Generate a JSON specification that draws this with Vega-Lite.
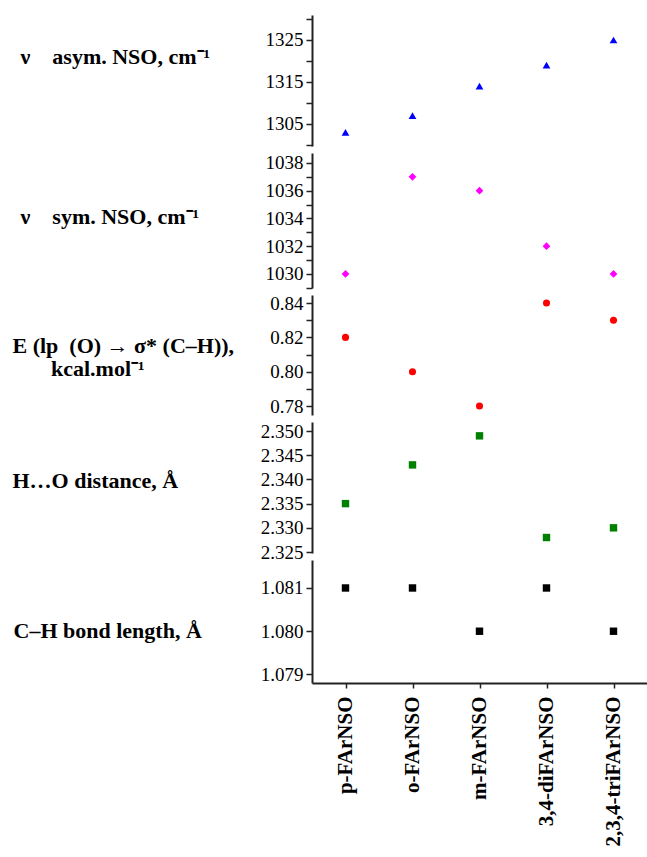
{
  "$schema": "https://vega.github.io/schema/vega-lite/v6.json",
  "padding": {"left": 12, "top": 9, "right": 0, "bottom": 0},
  "background": "white",
  "spacing": 7,
  "bounds": "flush",
  "config": {
    "view": {"stroke": null},
    "font": "Liberation Serif",
    "axis": {
      "domainColor": "#222222", "domainWidth": 2, "tickColor": "#222222", "tickWidth": 1.5, "tickSize": 6,
      "labelFont": "Liberation Serif", "labelFontSize": 19, "labelColor": "black", "labelPadding": 3,
      "grid": false, "labelOverlap": false, "labelFlush": false,
      "titleFont": "Liberation Serif", "titleFontSize": 22, "titleFontWeight": "bold", "titleColor": "black"
    }
  },
  "datasets": {
    "d": [
      {"compound": "p-FArNSO", "asym": 1303, "sym": 1030, "E": 0.82, "HO": 2.335, "CH": 1.081},
      {"compound": "o-FArNSO", "asym": 1307, "sym": 1037, "E": 0.80, "HO": 2.343, "CH": 1.081},
      {"compound": "m-FArNSO", "asym": 1314, "sym": 1036, "E": 0.78, "HO": 2.349, "CH": 1.080},
      {"compound": "3,4-diFArNSO", "asym": 1319, "sym": 1032, "E": 0.84, "HO": 2.328, "CH": 1.081},
      {"compound": "2,3,4-triFArNSO", "asym": 1325, "sym": 1030, "E": 0.83, "HO": 2.330, "CH": 1.080}
    ]
  },
  "vconcat": [
    {
      "width": 335, "height": 131,
      "data": {"name": "d"},
      "mark": {"type": "point", "shape": "triangle-up", "filled": true, "color": "#0000ff", "size": 60, "opacity": 1},
      "encoding": {
        "x": {"field": "compound", "type": "nominal", "sort": null, "scale": {"type": "point", "padding": 0.5}, "axis": null},
        "y": {"field": "asym", "type": "quantitative", "scale": {"domain": [1299.76, 1330.95], "nice": false, "zero": false},
          "axis": {"values": [1300, 1305, 1310, 1315, 1320, 1325, 1330], "labelExpr": "datum.value % 10 == 5 ? datum.label : ''", "format": "d",
            "title": "ν\u00a0\u00a0\u00a0\u00a0asym. NSO, cm⁻¹", "titleAngle": 0, "titleAlign": "left", "titleBaseline": "alphabetic", "titleX": -292, "titleY": 48}}
      }
    },
    {
      "width": 335, "height": 135,
      "data": {"name": "d"},
      "mark": {"type": "point", "shape": "diamond", "filled": true, "color": "#ff00ff", "size": 60, "opacity": 1},
      "encoding": {
        "x": {"field": "compound", "type": "nominal", "sort": null, "scale": {"type": "point", "padding": 0.5}, "axis": null},
        "y": {"field": "sym", "type": "quantitative", "scale": {"domain": [1028.99, 1038.72], "nice": false, "zero": false},
          "axis": {"values": [1029, 1030, 1031, 1032, 1033, 1034, 1035, 1036, 1037, 1038], "labelExpr": "datum.value % 2 == 0 ? datum.label : ''", "format": "d",
            "title": "ν\u00a0\u00a0\u00a0\u00a0sym. NSO, cm⁻¹", "titleAngle": 0, "titleAlign": "left", "titleBaseline": "alphabetic", "titleX": -292, "titleY": 70}}
      }
    },
    {
      "width": 335, "height": 120,
      "data": {"name": "d"},
      "mark": {"type": "point", "shape": "circle", "filled": true, "color": "#ff0000", "size": 50, "opacity": 1},
      "encoding": {
        "x": {"field": "compound", "type": "nominal", "sort": null, "scale": {"type": "point", "padding": 0.5}, "axis": null},
        "y": {"field": "E", "type": "quantitative", "scale": {"domain": [0.7748, 0.8447], "nice": false, "zero": false},
          "axis": {"values": [0.78, 0.79, 0.80, 0.81, 0.82, 0.83, 0.84], "labelExpr": "round(datum.value * 100) % 2 == 0 ? format(datum.value, '.2f') : ''",
            "title": ["E (lp\u00a0 (O) → σ* (C–H)),", "\u200b\u00a0\u00a0\u00a0\u00a0\u00a0\u00a0\u00a0kcal.mol⁻¹"], "titleLineHeight": 23, "titleAngle": 0, "titleAlign": "left", "titleBaseline": "alphabetic", "titleX": -300, "titleY": 57}}
      }
    },
    {
      "width": 335, "height": 131,
      "data": {"name": "d"},
      "mark": {"type": "point", "shape": "square", "filled": true, "color": "#008000", "size": 55, "opacity": 1},
      "encoding": {
        "x": {"field": "compound", "type": "nominal", "sort": null, "scale": {"type": "point", "padding": 0.5}, "axis": null},
        "y": {"field": "HO", "type": "quantitative", "scale": {"domain": [2.3248, 2.35186], "nice": false, "zero": false},
          "axis": {"values": [2.325, 2.33, 2.335, 2.34, 2.345, 2.35], "format": ".3f",
            "title": "H…O distance, Å", "titleAngle": 0, "titleAlign": "left", "titleBaseline": "alphabetic", "titleX": -300, "titleY": 65}}
      }
    },
    {
      "width": 335, "height": 123,
      "data": {"name": "d"},
      "mark": {"type": "point", "shape": "square", "filled": true, "color": "#000000", "size": 55, "opacity": 1},
      "encoding": {
        "x": {"field": "compound", "type": "nominal", "sort": null, "scale": {"type": "point", "padding": 0.5},
          "axis": {"title": null, "labelAngle": -90, "labelAlign": "right", "labelBaseline": "middle", "labelFontSize": 21, "labelFontWeight": "bold", "labelPadding": 8, "tickSize": 5}},
        "y": {"field": "CH", "type": "quantitative", "scale": {"domain": [1.078803, 1.081647], "nice": false, "zero": false},
          "axis": {"values": [1.079, 1.08, 1.081], "format": ".3f",
            "title": "C–H bond length, Å", "titleAngle": 0, "titleAlign": "left", "titleBaseline": "alphabetic", "titleX": -299, "titleY": 77}}
      }
    }
  ]
}
